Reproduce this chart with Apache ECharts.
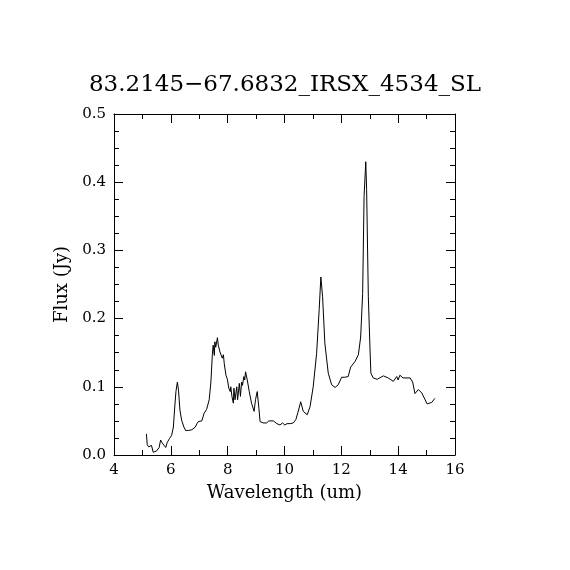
<!DOCTYPE html>
<html>
<head>
<meta charset="utf-8">
<script src="https://cdn.jsdelivr.net/npm/echarts@6/dist/echarts.min.js"></script>
<style>
  html, body { margin: 0; padding: 0; background: #fff; }
  #chart { width: 570px; height: 570px; }
</style>
</head>
<body>
<div id="chart"></div>
<script>
// spectrum: wavelength (um) and flux (Jy)
var wavelength = [
  5.14, 5.17, 5.22, 5.27, 5.32, 5.38, 5.44, 5.50, 5.59, 5.64, 5.69, 5.74, 5.82, 5.87, 5.95,
  6.03, 6.09, 6.13, 6.18, 6.23, 6.27, 6.32, 6.38, 6.46, 6.52, 6.58, 6.63, 6.69, 6.74, 6.79,
  6.86, 6.92, 6.97, 7.03, 7.09, 7.17, 7.26, 7.35, 7.41, 7.46, 7.49, 7.53, 7.55, 7.58, 7.64,
  7.67, 7.73, 7.77, 7.81, 7.85, 7.88, 7.94, 7.99, 8.04, 8.09, 8.11, 8.15, 8.20, 8.22, 8.26,
  8.32, 8.35, 8.41, 8.45, 8.49, 8.52, 8.57, 8.60, 8.63, 8.69, 8.76, 8.84, 8.93, 8.98, 9.04,
  9.10, 9.14, 9.25, 9.37, 9.45, 9.49, 9.61, 9.73, 9.84, 9.93, 10.01, 10.09, 10.20, 10.31, 10.40,
  10.47, 10.57, 10.66, 10.80, 10.90, 11.01, 11.13, 11.22, 11.28, 11.34, 11.42, 11.54, 11.66, 11.78, 11.89,
  12.01, 12.12, 12.24, 12.33, 12.48, 12.60, 12.68, 12.75, 12.80, 12.86, 12.89, 12.95, 13.01, 13.04, 13.12,
  13.26, 13.48, 13.65, 13.83, 13.95, 14.00, 14.06, 14.17, 14.42, 14.51, 14.59, 14.71, 14.83, 15.02, 15.18,
  15.29
];
var flux = [
  0.031, 0.015, 0.012, 0.010, 0.014, 0.004, 0.005, 0.006, 0.011, 0.022, 0.018, 0.019, 0.011, 0.018, 0.024,
  0.029, 0.041, 0.066, 0.093, 0.107, 0.095, 0.066, 0.051, 0.041, 0.036, 0.034, 0.036, 0.034, 0.037, 0.039,
  0.041, 0.046, 0.049, 0.050, 0.050, 0.061, 0.067, 0.081, 0.107, 0.147, 0.161, 0.146, 0.166, 0.158, 0.172,
  0.161, 0.151, 0.153, 0.142, 0.147, 0.134, 0.117, 0.111, 0.098, 0.093, 0.100, 0.086, 0.076, 0.098, 0.081,
  0.100, 0.081, 0.105, 0.086, 0.107, 0.102, 0.115, 0.110, 0.122, 0.110, 0.093, 0.076, 0.064, 0.081, 0.093,
  0.068, 0.049, 0.047, 0.047, 0.050, 0.049, 0.050, 0.046, 0.044, 0.047, 0.044, 0.046, 0.046, 0.047, 0.052,
  0.062, 0.078, 0.064, 0.059, 0.071, 0.100, 0.149, 0.213, 0.261, 0.232, 0.164, 0.120, 0.103, 0.099, 0.103,
  0.114, 0.114, 0.115, 0.129, 0.137, 0.147, 0.173, 0.237, 0.379, 0.430, 0.389, 0.232, 0.154, 0.120, 0.113,
  0.111, 0.116, 0.113, 0.108, 0.115, 0.110, 0.117, 0.113, 0.113, 0.107, 0.090, 0.096, 0.091, 0.075, 0.077,
  0.083
];
var titleText = "83.2145\u221267.6832_IRSX_4534_SL";
var xName = "Wavelength (um)";
var yName = "Flux (Jy)";

var points = wavelength.map(function (w, i) { return [w, flux[i]]; });

var font = "DejaVu Serif";
var black = "#000";

function boxAxis(base, showLabels, minorSplit) {
  // shared look for all four sides of the frame
  return Object.assign({
    axisLine: { show: true, onZero: false, lineStyle: { color: black, width: 1 } },
    axisTick: { show: true, inside: true, length: 9, lineStyle: { color: black } },
    minorTick: { show: true, splitNumber: minorSplit, length: 5, lineStyle: { color: black } },
    splitLine: { show: false },
    axisLabel: {
      show: showLabels, color: black, fontFamily: font, fontSize: 15
    }
  }, base);
}

var yLabel = { color: black, fontFamily: font, fontSize: 15,
  formatter: function (v) { return v.toFixed(1); } };

var chart = echarts.init(document.getElementById("chart"));
chart.setOption({
  backgroundColor: "#fff",
  animation: false,
  title: {
    text: titleText,
    left: "center",
    top: 69,
    textStyle: { color: black, fontFamily: font, fontSize: 23, fontWeight: "normal" }
  },
  grid: { left: 114, right: 115, top: 114, bottom: 115 },
  xAxis: [
    boxAxis({
      type: "value", min: 4, max: 16, interval: 2, position: "bottom",
      name: xName, nameLocation: "middle", nameGap: 29,
      nameTextStyle: { color: black, fontFamily: font, fontSize: 18 }
    }, true, 2),
    boxAxis({ type: "value", min: 4, max: 16, interval: 2, position: "top" }, false, 2)
  ],
  yAxis: [
    boxAxis({
      type: "value", min: 0, max: 0.5, interval: 0.1, position: "left",
      name: yName, nameLocation: "middle", nameGap: 43,
      nameTextStyle: { color: black, fontFamily: font, fontSize: 18 }
    }, true, 4),
    boxAxis({ type: "value", min: 0, max: 0.5, interval: 0.1, position: "right" }, false, 4)
  ],
  series: [{
    type: "line",
    data: points,
    xAxisIndex: 0,
    yAxisIndex: 0,
    showSymbol: false,
    lineStyle: { color: black, width: 1 }
  }]
});
chart.setOption({ yAxis: [{ axisLabel: yLabel }, {}] });
</script>
</body>
</html>
